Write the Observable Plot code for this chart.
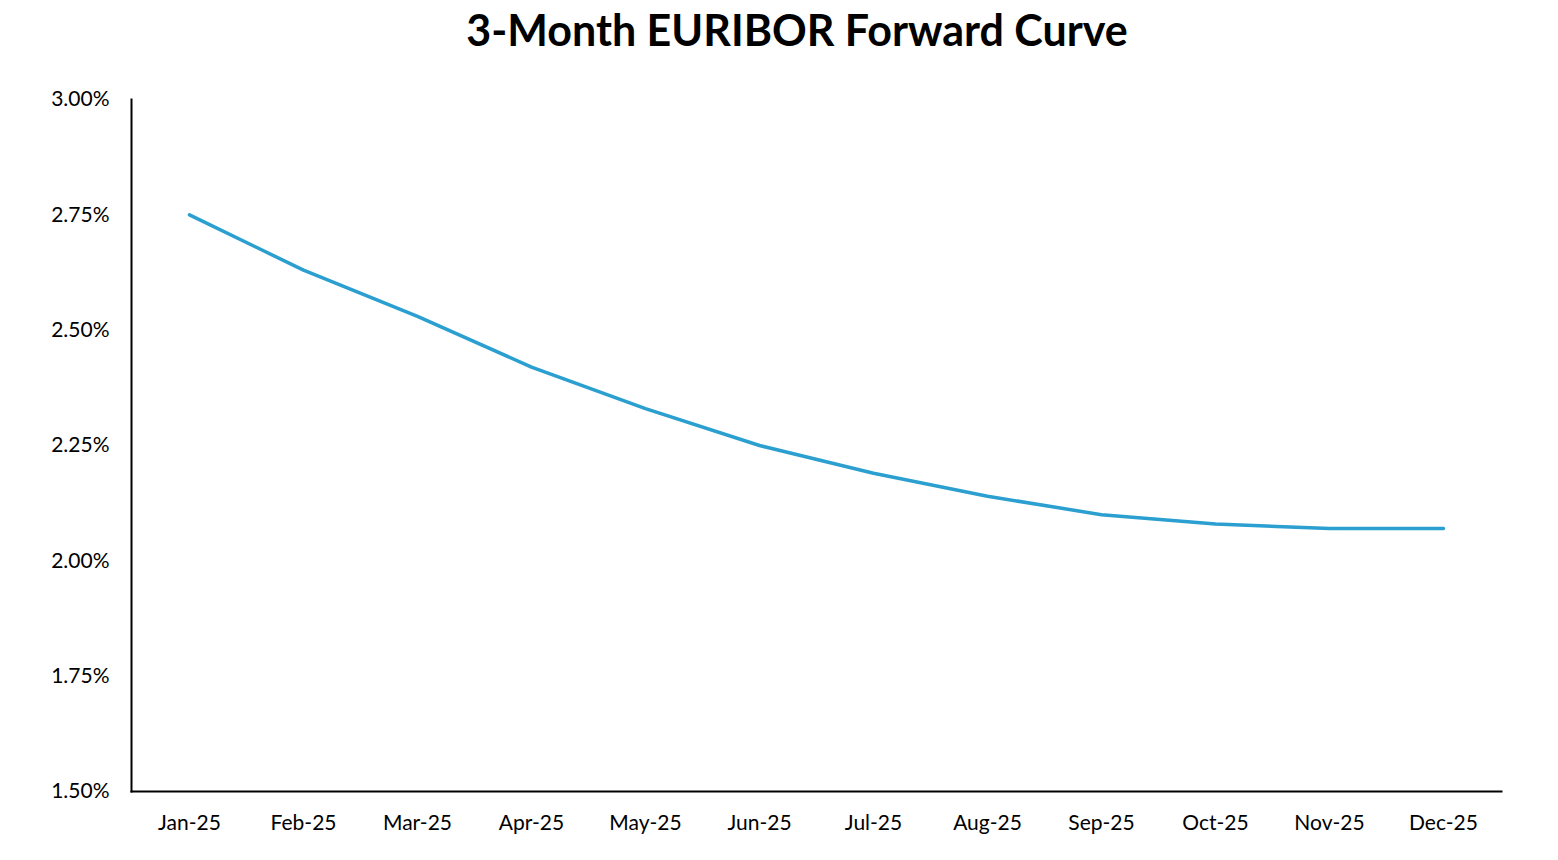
<!DOCTYPE html>
<html>
<head>
<meta charset="utf-8">
<script src="https://cdn.jsdelivr.net/npm/d3@7"></script>
<script src="https://cdn.jsdelivr.net/npm/@observablehq/plot@0.6"></script>
<style>
  html, body { margin: 0; padding: 0; background: #fff; }
  #title { height: 60px; line-height: 60px; text-align: center; padding-left: 36px; font-family: Lato, "Open Sans", sans-serif; font-weight: 700; font-size: 43px; color: #000; }
  #chart svg { display: block; }
</style>
</head>
<body>
<div id="title">3-Month EURIBOR Forward Curve</div>
<div id="chart"></div>
<script>
const months = ["Jan-25","Feb-25","Mar-25","Apr-25","May-25","Jun-25","Jul-25","Aug-25","Sep-25","Oct-25","Nov-25","Dec-25"];
const rates = [2.75, 2.63, 2.53, 2.42, 2.33, 2.25, 2.19, 2.14, 2.10, 2.08, 2.07, 2.07];
const yTicks = [1.50, 1.75, 2.00, 2.25, 2.50, 2.75, 3.00];

const data = months.map((m, i) => ({month: m, rate: rates[i]}));

const chart = Plot.plot({
  width: 1558,
  height: 800,
  marginTop: 39,
  marginBottom: 69,
  marginLeft: 131,
  marginRight: 57,
  style: {fontFamily: "Lato, 'Open Sans', sans-serif", fontSize: "21px", color: "#000", background: "#fff"},
  x: {type: "point", domain: months, padding: 0.5, label: null, tickSize: 0, tickPadding: 24},
  y: {domain: [1.5, 3.0], ticks: yTicks, tickFormat: d => d.toFixed(2) + "%", label: null, tickSize: 0, tickPadding: 22},
  marks: [
    Plot.frame({anchor: "left", stroke: "#000", strokeWidth: 2}),
    Plot.frame({anchor: "bottom", stroke: "#000", strokeWidth: 2}),
    Plot.line(data, {x: "month", y: "rate", stroke: "#2a9fd0", strokeWidth: 3.5})
  ]
});
document.getElementById("chart").appendChild(chart);
</script>
</body>
</html>
